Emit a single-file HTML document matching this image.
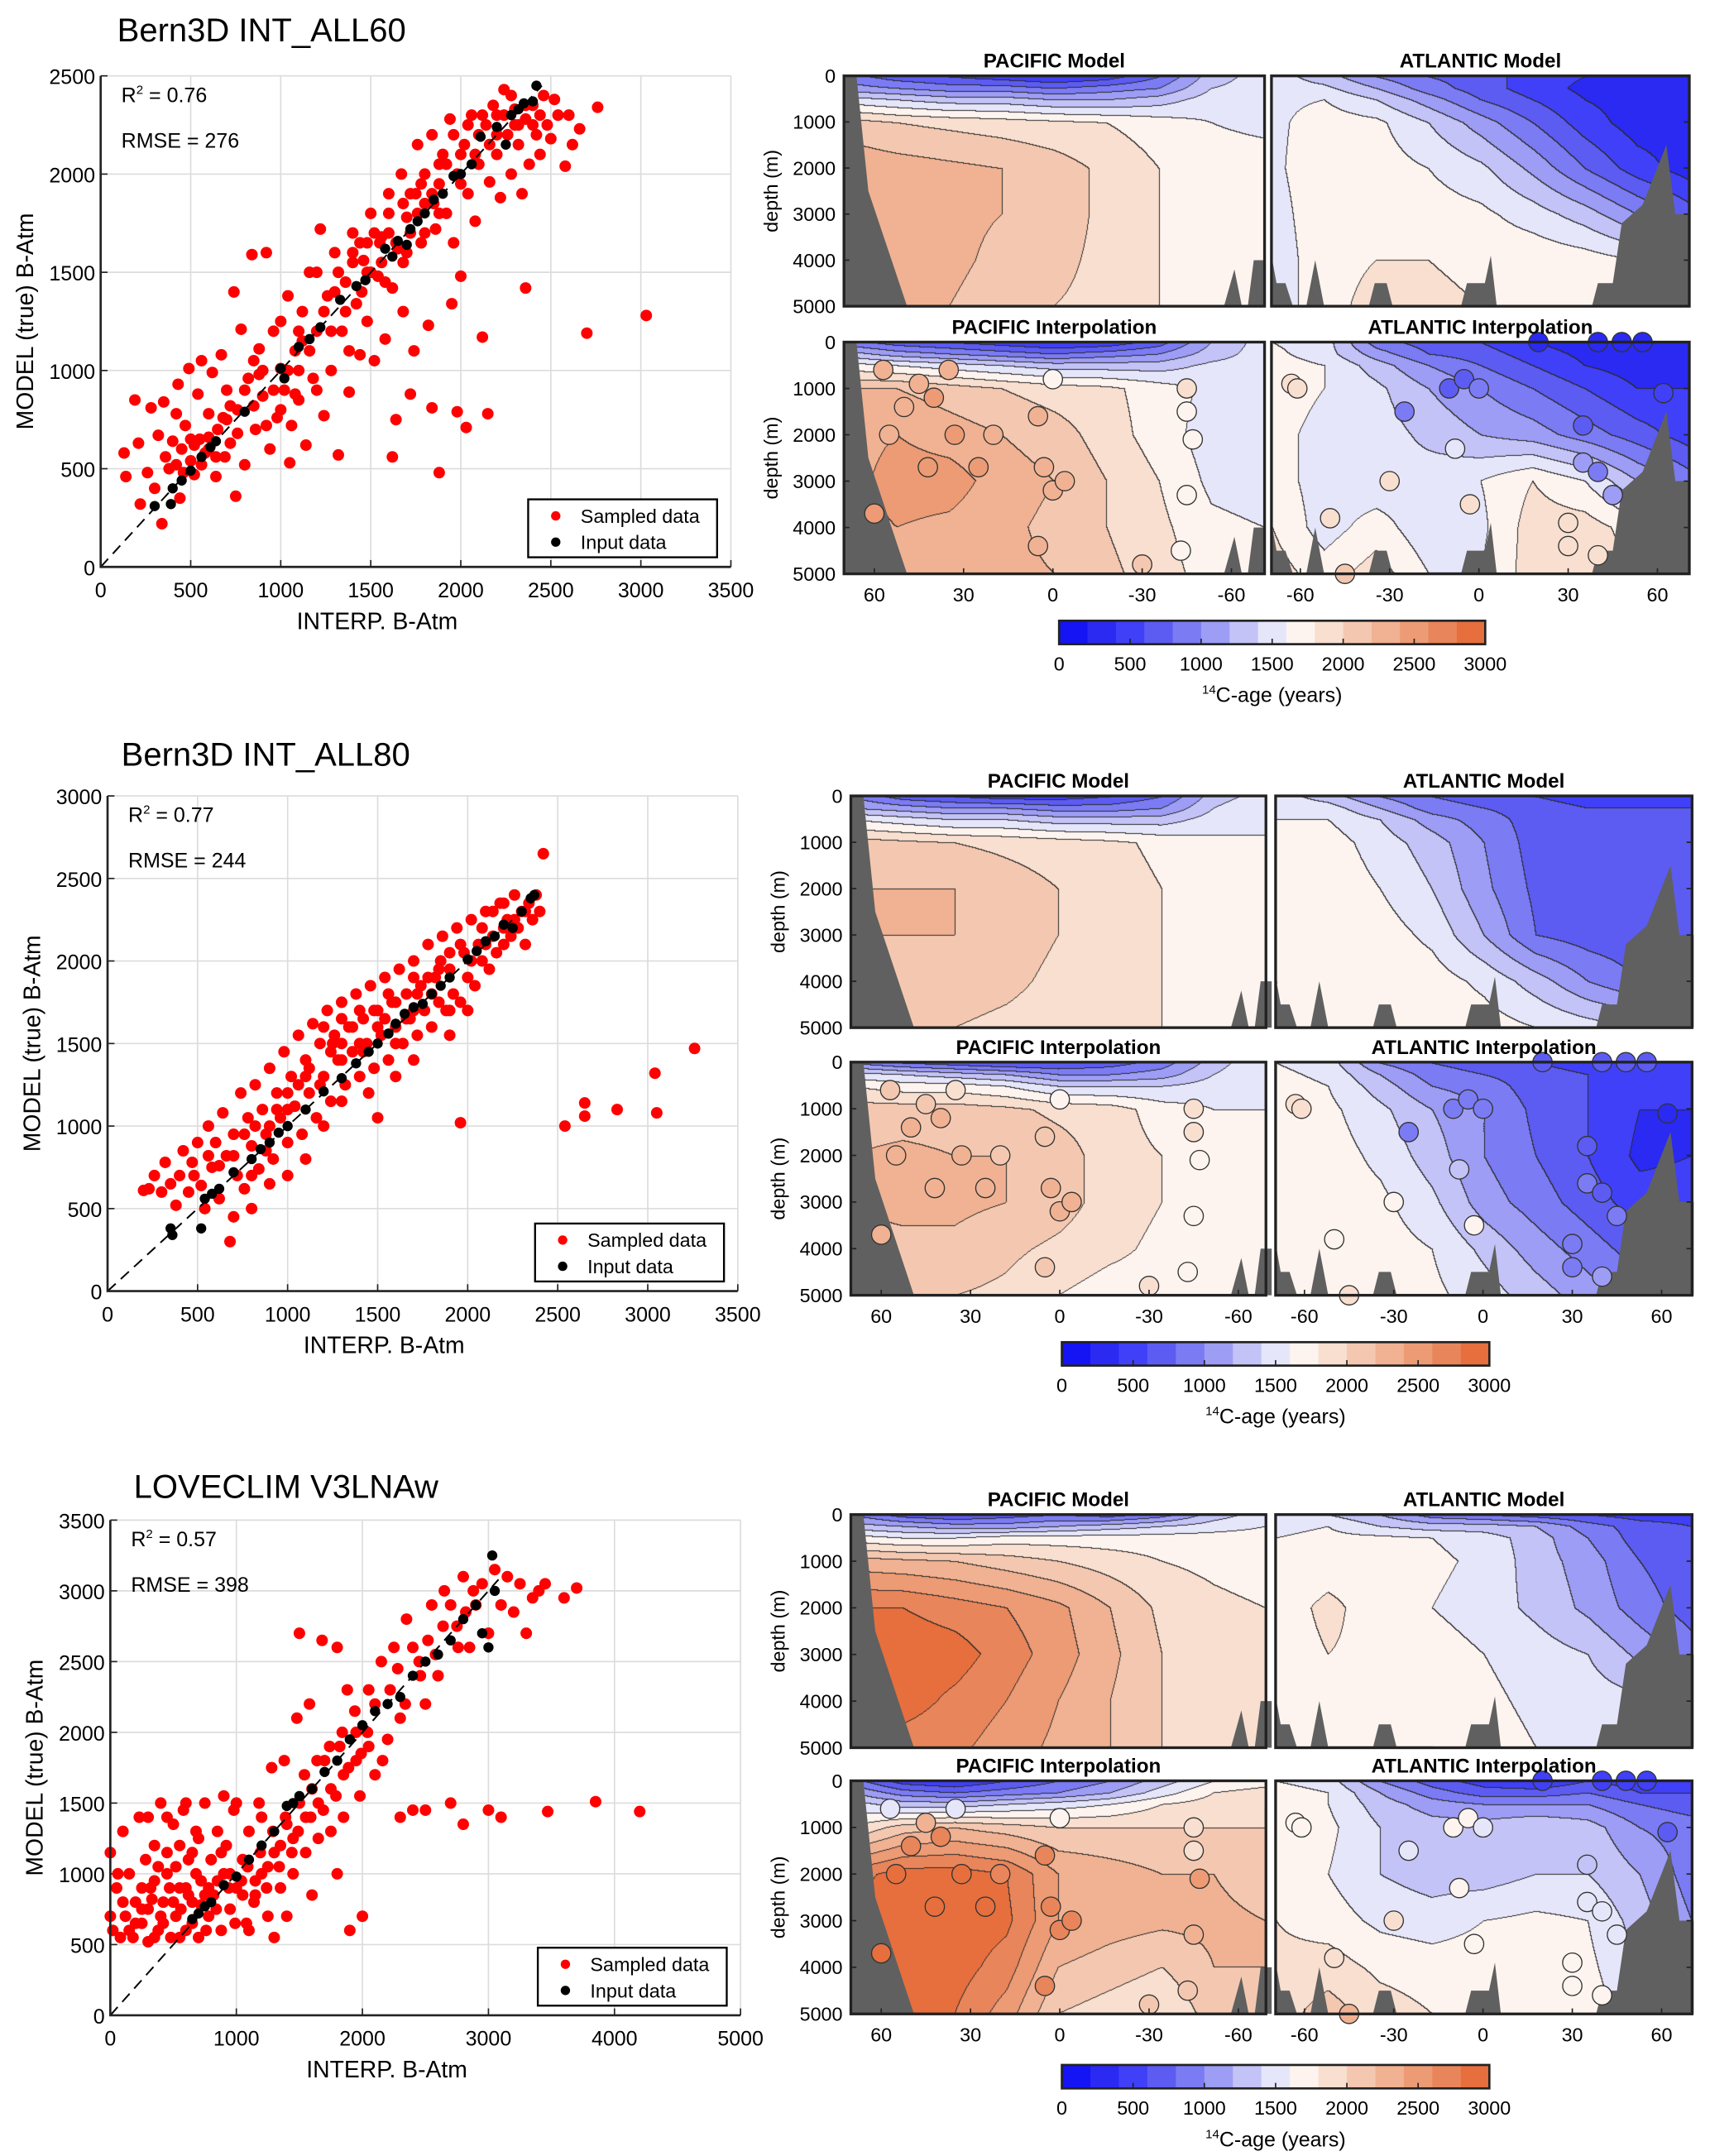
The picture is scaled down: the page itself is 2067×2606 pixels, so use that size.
<!DOCTYPE html>
<html><head><meta charset="utf-8">
<style>
html,body{margin:0;padding:0;background:#fff;}
#page{position:relative;width:2067px;height:2606px;overflow:hidden;background:#fff;}
canvas{position:absolute;}
#ov{position:absolute;left:0;top:0;}
text{font-family:"Liberation Sans",sans-serif;}
</style></head>
<body>
<div id="page">
<svg id="ov" width="2067" height="2606" viewBox="0 0 1240 1563" preserveAspectRatio="none"></svg>
</div>
<script>
// ---------- scatter data ----------
const s1Red=[[130,580],[140,460],[190,850],[210,630],[220,320],[260,480],[280,810],[300,400],[320,670],[340,220],[350,840],[360,560],[380,500],[400,640],[420,780],[430,930],[440,350],[450,600],[470,720],[490,1010],[500,540],[520,470],[540,880],[550,650],[560,1050],[580,580],[600,780],[620,990],[640,460],[650,700],[670,1080],[690,560],[700,900],[720,630],[740,1400],[750,360],[760,800],[780,1210],[800,520],[820,960],[840,1590],[860,700],[880,1110],[900,870],[920,1600],[940,600],[960,1200],[980,760],[1000,1010],[1020,900],[1040,1380],[1050,530],[1060,720],[1080,1100],[1100,850],[1120,1300],[1140,620],[1160,1500],[1180,960],[1200,1200],[1220,1720],[1240,770],[1260,1380],[1280,1000],[1300,1600],[1320,570],[1340,1200],[1360,1450],[1380,890],[1400,1700],[1420,1340],[1440,1080],[1460,1560],[1480,1250],[1500,1800],[1520,1050],[1540,1480],[1560,1680],[1580,1160],[1600,1900],[1620,1420],[1640,750],[1650,1620],[1670,2000],[1680,1300],[1700,1780],[1720,1900],[1740,1100],[1760,2150],[1780,1650],[1800,1850],[1820,1230],[1840,2200],[1860,1720],[1880,1950],[1900,2100],[1920,1800],[1940,2280],[1960,1650],[1980,2000],[2000,1480],[2020,2150],[2040,1900],[2060,2300],[2080,1760],[2100,2050],[2120,1170],[2140,2250],[2160,1960],[2180,2350],[2200,2100],[2220,1880],[2240,2430],[2260,2200],[2280,2000],[2300,2330],[2320,2150],[2340,1900],[2360,2280],[2380,2050],[2400,2350],[2420,2200],[2440,2100],[2460,2400],[2480,2250],[2500,2180],[2520,2380],[2540,2300],[2580,2040],[2600,2300],[2620,2150],[2660,2230],[2760,2340],[1880,480],[2150,780],[2030,710],[1840,810],[1980,790],[3030,1280],[2700,1190],[2360,1420],[1950,1340],[1720,880],[1620,560],[1500,1500],[1400,1600],[1600,1700],[1700,1600],[1800,1700],[1300,1400],[1200,1500],[1100,1000],[900,1000],[700,750],[600,600],[500,650],[1750,1900],[1850,1850],[1550,1650],[1450,1400],[2000,2100],[2100,2200],[2200,2300],[2300,2250],
[420,520],[460,480],[520,620],[560,520],[600,660],[640,560],[680,760],[720,820],[760,680],[800,900],[850,820],[880,980],[920,720],[960,900],[1000,800],[1040,1000],[1080,880],[1120,1150],[1160,1100],[1200,900],[1240,1300],[1280,1200],[1320,1500],[1360,1300],[1400,1550],[1440,1650],[1480,1500],[1520,1700],[1560,1550],[1600,1800],[1640,1650],[1680,1850],[1720,1700],[1760,1800],[1800,2000],[1840,1900],[1880,1800],[1920,2050],[1960,2200],[2000,1950],[2040,2250],[2080,2100],[2120,2300],[2160,2150],[2200,2200],[2240,2300],[2280,2400],[2320,2250],[2360,2350],[2400,2250],[2440,2300],[1380,1100],[1480,1650],[1580,1450],[1680,1550],[1780,1950],[1880,2050],[1000,1250],[1100,1200],[850,1050]];
const s1Black=[[300,310],[390,320],[400,400],[450,440],[500,490],[560,560],[610,610],[640,640],[800,790],[1000,1010],[1020,960],[1100,1120],[1160,1160],[1220,1220],[1330,1360],[1420,1430],[1470,1460],[1580,1620],[1620,1580],[1650,1660],[1700,1640],[1720,1720],[1760,1760],[1800,1800],[1850,1870],[1900,1900],[1960,1990],[2000,2000],[2060,2050],[2110,2190],[2200,2240],[2250,2150],[2280,2300],[2320,2330],[2350,2360],[2400,2370],[2420,2450]];
const s2Red=[[200,610],[230,620],[260,700],[300,600],[320,780],[350,650],[380,520],[400,700],[420,850],[450,600],[470,780],[500,900],[520,640],[540,500],[560,1000],[580,750],[600,900],[620,560],[640,1080],[660,820],[680,300],[700,950],[720,700],[740,1200],[760,620],[780,1050],[800,880],[820,1250],[840,740],[860,1100],[880,950],[900,1350],[920,800],[940,1200],[960,1050],[980,1450],[1000,900],[1020,1300],[1040,1120],[1060,1550],[1080,950],[1100,1400],[1120,1200],[1140,1620],[1160,1050],[1180,1500],[1200,1300],[1220,1700],[1240,1150],[1260,1550],[1280,1400],[1300,1750],[1320,1250],[1340,1600],[1360,1450],[1380,1800],[1400,1300],[1420,1650],[1440,1500],[1460,1850],[1480,1350],[1500,1700],[1520,1550],[1540,1900],[1560,1400],[1580,1750],[1600,1600],[1620,1950],[1640,1500],[1660,1800],[1680,1650],[1700,2000],[1720,1550],[1740,1850],[1760,1700],[1780,2100],[1800,1600],[1820,1900],[1840,1750],[1860,2150],[1880,1700],[1900,1950],[1920,1800],[1940,2200],[1960,1750],[1980,2050],[2000,1900],[2020,2250],[2040,1850],[2060,2100],[2080,2000],[2100,2300],[2120,1950],[2140,2150],[2160,2050],[2180,2350],[2200,2100],[2220,2250],[2240,2150],[2260,2400],[2280,2200],[2300,2300],[2320,2100],[2340,2350],[2360,2250],[2380,2400],[2400,2300],[2420,2650],[1200,1000],[900,650],[1000,700],[1100,800],[1300,1150],[1450,1200],[700,450],[800,500],[1600,1300],[1700,1400],[1900,1550],[2000,1700],[1500,1050],[1960,1020],[2540,1000],[2650,1140],[2650,1060],[2830,1100],[3050,1080],[3040,1320],[3260,1470],[1200,1600],[1300,1650],[1100,1300],[1400,1500],[1500,1600],[1600,1500],[1700,1700],[1800,1800],[1900,1700],[1000,1100],[900,1000],[800,700],[1300,1500],[2100,2100],[2200,2200],
[480,700],[560,820],[620,760],[700,820],[760,950],[820,1000],[880,850],[940,1100],[1000,1200],[1060,1250],[1120,1350],[1180,1250],[1240,1450],[1300,1400],[1360,1600],[1420,1450],[1480,1700],[1540,1650],[1600,1750],[1660,1650],[1720,1800],[1780,1900],[1840,1950],[1900,2050],[1960,2100],[2020,2000],[2080,2200],[2140,2300],[2200,2350],[2260,2250],[2320,2300],[1560,1800],[1400,1700],[1250,1500],[1700,1900],[1850,2000]];
const s2Black=[[350,380],[360,340],[520,380],[540,560],[580,590],[620,620],[700,720],[800,800],[850,860],[900,900],[950,960],[1000,1000],[1100,1100],[1200,1210],[1300,1290],[1380,1380],[1450,1450],[1500,1500],[1560,1560],[1600,1620],[1650,1680],[1700,1720],[1750,1740],[1800,1800],[1850,1850],[1900,1900],[2000,2010],[2050,2060],[2100,2120],[2150,2150],[2200,2220],[2250,2200],[2300,2300],[2350,2380],[2370,2400]];
const s3Red=[[0,1150],[0,700],[20,600],[50,900],[80,550],[100,1300],[120,700],[150,1000],[180,550],[200,800],[230,1400],[250,650],[280,1100],[300,520],[320,900],[350,1200],[380,600],[400,1500],[420,800],[450,1000],[480,550],[500,1350],[520,700],[550,900],[580,1450],[600,600],[620,1100],[650,800],[680,1300],[700,550],[720,950],[750,1500],[780,700],[800,1100],[820,850],[850,1300],[880,600],[900,1000],[920,1200],[950,750],[980,1450],[1000,900],[1050,1100],[1080,650],[1100,1300],[1150,850],[1180,1500],[1200,1000],[1250,700],[1280,1750],[1300,1150],[1350,900],[1380,1800],[1400,1350],[1450,1000],[1480,2100],[1500,1500],[1550,1150],[1580,2200],[1600,1600],[1650,1250],[1680,2650],[1700,1800],[1750,1300],[1800,2600],[1820,1900],[1850,1400],[1880,2300],[1900,600],[1950,2000],[1980,1550],[2000,700],[2050,2300],[2100,1700],[2150,2500],[2200,1950],[2250,2600],[2300,2100],[2350,2800],[2400,1450],[2450,2500],[2500,2200],[2550,2900],[2600,2400],[2650,3000],[2700,1500],[2750,2750],[2800,3100],[2850,2600],[2900,2900],[2950,3050],[3000,2700],[3050,3150],[3100,2900],[3150,3100],[3200,2850],[3250,3050],[3300,2700],[3350,2950],[3400,3000],[3450,3050],[3600,2950],[3700,3020],[3470,1440],[3850,1510],[4200,1440],[2300,1400],[2500,1450],[2800,1350],[3000,1450],[3100,1400],[1000,1500],[1200,1400],[1400,700],[1600,850],[1800,1000],[600,1500],[300,1400],[700,1250],[900,1550],[1500,2700],[1100,600],[1300,550],[400,700],[500,800],[600,900],[300,750],[200,650],[450,1150],[550,1200],[350,950],[250,900],[650,650],[750,850],[850,950],[950,1000],[1050,850],[1150,950],[1250,1050],[1350,1200],[1450,1250],[1550,1400],[1650,1500],[1750,1600],[1850,1700],[1950,1800],[2050,1900],
[250,750],[330,820],[380,1050],[420,650],[470,900],[520,1050],[560,750],[620,850],[680,1000],[720,780],[780,900],[840,750],[880,1150],[940,900],[990,650],[1040,950],[1090,1050],[1140,800],[1190,1150],[1240,900],[1290,1300],[1340,1050],[1390,1400],[1440,1150],[1490,1300],[1540,1700],[1590,1400],[1640,1800],[1690,1450],[1740,1900],[1790,1550],[1840,2000],[1890,1750],[1940,2150],[1990,1850],[2040,2000],[2100,2200],[2160,1800],[2220,2300],[2280,2450],[2340,2200],[2400,2600],[2460,2400],[2520,2650],[2580,2550],[2640,2750],[2700,2900],[2760,2600],[2820,2850],[2880,3000],[150,600],[100,800],[60,1000],[350,550],[450,1400],[550,550],[650,1150],[760,600]];
const s3Black=[[650,680],[700,720],[750,770],[800,800],[900,920],[1000,980],[1100,1100],[1200,1200],[1300,1300],[1400,1480],[1450,1500],[1500,1550],[1600,1600],[1700,1720],[1800,1800],[1900,1950],[2000,2050],[2100,2150],[2200,2200],[2300,2250],[2400,2400],[2500,2500],[2600,2550],[2700,2650],[2800,2800],[2900,2900],[2950,2700],[3000,2600],[3050,3000],[3030,3250]];
const xTicks12=[0,500,1000,1500,2000,2500,3000,3500];
const yTicks1=[0,500,1000,1500,2000,2500];
const yTicks2=[0,500,1000,1500,2000,2500,3000];
const xTicks3=[0,1000,2000,3000,4000,5000];
const yTicks3=[0,500,1000,1500,2000,2500,3000,3500];
const titles=["Bern3D INT_ALL60","Bern3D INT_ALL80","LOVECLIM V3LNAw"];
const r2Labels=["0.76","0.77","0.57"];
const rmseLabels=["276","244","398"];

// ---------- section data ----------
const depthRows=[0,250,500,1000,2000,3000,4000,5000];
const r1PM=[[900,700,600,500,400,500,800,1300,1500],[1100,1000,900,900,800,900,1000,1400,1500],[1500,1400,1300,1300,1200,1200,1300,1500,1550],[2100,2000,1950,1900,1850,1800,1700,1600,1550],[2350,2300,2250,2200,2100,1950,1800,1700,1700],[2450,2300,2250,2200,2100,1950,1800,1750,1700],[2300,2300,2250,2150,2050,1950,1800,1750,1750],[2200,2200,2200,2100,2000,1950,1800,1750,1750]];
const r1AM=[[1500,1300,1000,800,700,500,400,300,300],[1500,1450,1200,900,700,500,350,300,300],[1550,1600,1400,1100,800,600,400,300,300],[1550,1700,1650,1400,1100,800,500,300,300],[1550,1750,1700,1600,1450,1150,800,500,300],[1500,1750,1750,1700,1650,1500,1300,1000,700],[1450,1750,1800,1800,1750,1750,1700,1600,1400],[1450,1750,1850,1850,1800,1800,1800,1700,1600]];
const r1PI=[[900,700,600,500,400,450,700,1200,1500],[1300,1100,1000,900,800,900,1000,1300,1500],[1700,1600,1500,1400,1300,1300,1300,1450,1500],[2200,2200,2100,2000,1900,1850,1700,1550,1500],[2300,2400,2300,2200,2100,1900,1700,1500,1450],[2300,2500,2500,2300,2200,2000,1800,1550,1500],[2300,2400,2350,2250,2150,2000,1850,1650,1600],[2250,2300,2300,2250,2200,2050,1900,1700,1600]];
const r1AI=[[1600,1500,900,700,600,400,300,250,300],[1650,1500,1100,800,700,500,350,300,300],[1700,1600,1300,1000,800,600,400,300,300],[1750,1600,1450,1200,1000,800,600,400,400],[1700,1500,1500,1350,1200,1100,900,700,500],[1700,1500,1450,1500,1600,1800,1600,1200,900],[1800,1500,1700,1450,1550,1900,1900,1700,1500],[1900,1700,1900,1600,1600,1900,1950,1800,1600]];
const r2PM=[[1000,700,600,500,500,600,800,1300,1500],[1200,1100,1000,1000,900,900,1000,1400,1600],[1600,1500,1400,1400,1300,1300,1300,1500,1600],[2100,2050,2000,1950,1900,1850,1750,1650,1600],[2200,2200,2200,2100,2000,1900,1800,1700,1650],[2200,2200,2200,2100,2000,1900,1800,1700,1650],[2150,2150,2100,2050,1950,1850,1800,1700,1700],[2050,2050,2000,1950,1900,1850,1800,1750,1750]];
const r2AM=[[1500,1300,1000,800,700,600,500,500,500],[1550,1500,1200,900,800,700,600,600,600],[1600,1600,1400,1100,900,700,600,600,600],[1650,1700,1500,1300,1000,700,600,600,600],[1650,1750,1600,1400,1050,750,650,600,600],[1650,1750,1700,1550,1200,800,700,650,600],[1600,1750,1750,1700,1550,1300,1000,800,700],[1600,1750,1800,1750,1700,1600,1500,1400,1300]];
const r2PI=[[1000,800,700,600,600,700,900,1300,1600],[1500,1400,1300,1200,1000,1000,1100,1400,1600],[1800,1700,1700,1600,1400,1400,1400,1500,1600],[2100,2100,2100,2050,1950,1900,1700,1600,1600],[2200,2250,2200,2200,2100,1900,1800,1650,1600],[2200,2250,2250,2200,2100,1900,1800,1700,1600],[2150,2150,2150,2050,1950,1850,1750,1700,1650],[2050,2050,2000,1950,1800,1700,1700,1700,1700]];
const r2AI=[[1600,1500,1000,800,700,600,500,500,600],[1650,1550,1200,900,800,700,600,500,600],[1700,1600,1300,1000,900,700,600,500,500],[1700,1650,1450,1200,1000,750,600,400,400],[1700,1700,1550,1300,1000,800,600,350,400],[1700,1700,1650,1450,1100,900,700,500,500],[1600,1700,1700,1600,1350,1100,900,700,600],[1600,1700,1700,1650,1500,1300,1100,900,800]];
const r3PM=[[1000,700,600,700,800,700,900,1300,1500],[1300,1200,1100,1100,1200,1300,1400,1500,1600],[1700,1600,1600,1700,1700,1700,1700,1700,1700],[2300,2250,2200,2100,2000,1900,1800,1750,1700],[2800,2800,2700,2600,2450,2200,1950,1850,1800],[2950,2950,2900,2700,2500,2250,2000,1900,1850],[2850,2900,2750,2600,2400,2200,2000,1900,1850],[2700,2700,2650,2500,2350,2200,2000,1900,1850]];
const r3AM=[[1500,1400,1200,900,800,700,600,500,500],[1550,1600,1400,1300,1300,1200,900,700,600],[1600,1650,1650,1600,1500,1300,1000,700,600],[1650,1700,1700,1650,1550,1300,1100,800,650],[1700,1850,1700,1600,1500,1350,1150,900,700],[1700,1800,1750,1700,1600,1500,1400,1150,900],[1700,1800,1750,1750,1650,1550,1500,1450,1300],[1750,1800,1800,1800,1700,1600,1550,1500,1450]];
const r3PI=[[900,500,400,600,800,1000,1300,1600,1700],[1200,900,800,900,1000,1200,1500,1800,1900],[1500,1300,1300,1400,1500,1600,1800,1900,2000],[1800,2100,2200,2100,2000,2000,2000,2000,2000],[2700,2900,2900,2800,2400,2300,2200,2200,2100],[2900,2950,2950,2850,2400,2300,2250,2250,2200],[2900,2900,2900,2700,2200,2100,2000,2200,2200],[2800,2800,2800,2500,2000,1900,1800,2100,2200]];
const r3AI=[[1600,1500,1000,700,500,400,600,500,500],[1700,1600,1200,900,700,700,800,600,600],[1700,1600,1300,1100,1000,1000,1000,800,700],[1700,1650,1400,1300,1300,1400,1300,1000,900],[1750,1600,1400,1300,1300,1400,1400,1200,900],[1800,1700,1550,1500,1600,1650,1600,1300,1000],[1850,1900,1750,1700,1700,1700,1650,1400,1200],[1900,2100,1900,1800,1750,1750,1700,1500,1300]];
const pacSites=[[57,600],[35,600],[45,900],[40,1200],[50,1400],[55,2000],[33,2000],[20,2000],[25,2700],[42,2700],[5,1600],[3,2700],[0,3200],[-4,3000],[5,4400],[-45,1000],[-45,1500],[-47,2100],[-43,4500],[-45,3300],[60,3700],[0,800],[-30,4800]];
const atlSites=[[-63,900],[-61,1000],[-10,1000],[-5,800],[-25,1500],[-8,2300],[-30,3000],[-3,3500],[-50,3800],[35,2600],[40,2800],[30,3900],[40,4600],[30,4400],[20,0],[40,0],[48,0],[55,0],[62,1100],[0,1000],[35,1800],[45,3300],[-45,5000]];
const pacVals=[[2200,2200,2300,2400,2300,2300,2400,2300,2400,2400,2200,2300,2300,2300,2300,1800,1700,1700,1700,1700,2500,1600,2000],[2000,1900,2100,2200,2200,2200,2200,2100,2200,2200,2100,2200,2200,2200,2100,1900,1800,1700,1700,1700,2300,1600,1900],[1500,1500,2300,2600,2700,2800,2800,2700,2800,2800,2600,2700,2700,2700,2700,1900,1800,2500,2000,2200,2900,1600,2100]];
const atlVals=[[1800,1800,700,700,800,1400,1800,1900,1900,1000,900,1900,1900,1800,300,300,300,300,400,800,700,1000,2000],[1800,1800,800,800,900,1300,1600,1700,1700,800,700,900,1000,800,600,600,600,600,300,800,700,800,1900],[1700,1700,1600,1600,1500,1600,1900,1700,1900,1400,1400,1600,1600,1600,500,500,500,500,700,1500,1300,1500,2300]];
const bins=["#1414f5","#2a2af2","#4040f8","#5c5cf2","#7b7bf4","#9d9df5","#c3c3f7","#e6e6fb","#fdf4ef","#f8dfd0","#f4c8b0","#f0b292","#ec9b74","#e8855a","#e66f3d"];
const cbTicks=[0,500,1000,1500,2000,2500,3000];
const pacLatTicks=[60,30,0,-30,-60];
const atlLatTicks=[-60,-30,0,30,60];
const depthTicks=[0,1000,2000,3000,4000,5000];
const pacBathy=[[[70.2,0],[66,0],[62,2500],[49,5000],[70.2,5000]],[[-57.5,5000],[-61,4200],[-63.5,5000]],[[-65.5,5000],[-67.5,4000],[-71.2,4000],[-71.2,5000]]];
const atlBathy=[[[-69.7,3900],[-68,4500],[-65,4500],[-62.5,5000],[-69.7,5000]],[[-58,5000],[-55,4000],[-52,5000]],[[-37,5000],[-35,4500],[-31,4500],[-29,5000]],[[-6,5000],[-4,4500],[2,4500],[4,3900],[6,5000]],[[38,5000],[40,4500],[45,4500],[48,3200],[55,2800],[63,1500],[66,3000],[70.8,3000],[70.8,5000]]];

// ---------- layout ----------
const S=2067/1240;
const NS="http://www.w3.org/2000/svg";
const svg=document.getElementById('ov');
const page=document.getElementById('page');
function el(tag,attrs,parent){const e=document.createElementNS(NS,tag);for(const k in attrs)e.setAttribute(k,attrs[k]);(parent||svg).appendChild(e);return e;}
function txt(x,y,s,size,anchor,extra){const t=el('text',Object.assign({x:x,y:y,'font-size':size,'text-anchor':anchor||'start',fill:'#000'},extra||{}));t.textContent=s;return t;}
function binColor(v){let b=Math.floor(v/200);if(b<0)b=0;if(b>14)b=14;return bins[b];}

const rows=[
 {sc:{x:73,y:55,w:457,h:356},xmax:3500,ymax:2500,xt:xTicks12,yt:yTicks1,red:s1Red,blk:s1Black,tx:85,ty:30,
  top:55,th:167,bot:248,bh:168,px:612,pw:305,ax:922,aw:303,cb:{x:768,y:450,w:309,h:17},grids:[r1PM,r1AM,r1PI,r1AI]},
 {sc:{x:78,y:577,w:457,h:359},xmax:3500,ymax:3000,xt:xTicks12,yt:yTicks2,red:s2Red,blk:s2Black,tx:88,ty:555,
  top:577,th:168,bot:770,bh:169,px:617,pw:301,ax:925,aw:302,cb:{x:770,y:973,w:310,h:17},grids:[r2PM,r2AM,r2PI,r2AI]},
 {sc:{x:80,y:1102,w:457,h:359},xmax:5000,ymax:3500,xt:xTicks3,yt:yTicks3,red:s3Red,blk:s3Black,tx:97,ty:1086,
  top:1098,th:169,bot:1291,bh:169,px:617,pw:301,ax:925,aw:302,cb:{x:770,y:1497,w:310,h:17},grids:[r3PM,r3AM,r3PI,r3AI]}
];

function drawSection(grid,x,y,w,h,latL,latR,name){
  const c=document.createElement('canvas');
  const W=Math.round(w*S),H=Math.round(h*S);
  c.width=W;c.height=H;
  c.style.left=(x*S)+'px';c.style.top=(y*S)+'px';
  
  
  page.insertBefore(c,svg);
  const ctx=c.getContext('2d');const img=ctx.createImageData(W,H);
  const rgb=bins.map(h=>[parseInt(h.substr(1,2),16),parseInt(h.substr(3,2),16),parseInt(h.substr(5,2),16)]);
  const nc=grid[0].length;
  const binArr=new Int16Array(W*H);
  for(let py=0;py<H;py++){
    const d=5000*py/(H-1);
    let r=0;while(r<depthRows.length-2&&depthRows[r+1]<d)r++;
    const fr=(d-depthRows[r])/(depthRows[r+1]-depthRows[r]);
    for(let px=0;px<W;px++){
      const cf=px/(W-1)*(nc-1);let ci=Math.min(Math.floor(cf),nc-2);const fc=cf-ci;
      const v0=grid[r][ci]*(1-fc)+grid[r][ci+1]*fc;
      const v1=grid[r+1][ci]*(1-fc)+grid[r+1][ci+1]*fc;
      const v=v0*(1-fr)+v1*fr;
      let b=Math.floor(v/200);if(b<0)b=0;if(b>14)b=14;
      binArr[py*W+px]=b;
    }
  }
  for(let py=0;py<H;py++)for(let px=0;px<W;px++){
    const i=py*W+px;const b=binArr[i];let col=rgb[b];
    if((px>0&&binArr[i-1]!==b)||(py>0&&binArr[i-W]!==b))col=[40,40,40];
    img.data[i*4]=col[0];img.data[i*4+1]=col[1];img.data[i*4+2]=col[2];img.data[i*4+3]=255;
  }
  ctx.putImageData(img,0,0);
}

rows.forEach((R,ri)=>{
  const t=txt(R.tx,R.ty,titles[ri],24,'start',{'font-family':'"Liberation Sans Narrow","Liberation Sans",sans-serif'});
  
  const sc=R.sc;
  const X=v=>sc.x+v/R.xmax*sc.w, Y=v=>sc.y+sc.h-v/R.ymax*sc.h;
  const bg=el('rect',{x:sc.x,y:sc.y,width:sc.w,height:sc.h,fill:'#fff'});
  
  R.xt.forEach(v=>{const l=el('line',{x1:X(v),x2:X(v),y1:sc.y,y2:sc.y+sc.h,stroke:'#dcdcdc','stroke-width':1});
    const tl=txt(X(v),sc.y+sc.h+22,String(v),15,'middle');
    el('line',{x1:X(v),x2:X(v),y1:sc.y+sc.h,y2:sc.y+sc.h-5,stroke:'#222'});});
  R.yt.forEach(v=>{const l=el('line',{x1:sc.x,x2:sc.x+sc.w,y1:Y(v),y2:Y(v),stroke:'#dcdcdc','stroke-width':1});
    const tl=txt(sc.x-4,Y(v)+6,String(v),15,'end');
    el('line',{x1:sc.x,x2:sc.x+5,y1:Y(v),y2:Y(v),stroke:'#222'});});
  R.red.forEach(p=>{const c=el('circle',{cx:X(p[0]),cy:Y(p[1]),r:4.2,fill:'#ff0000'});});
  const dmax=R.blk.reduce((m,p)=>Math.max(m,p[0]),0)+30;
  const dl=el('line',{x1:X(0),y1:Y(0),x2:X(dmax),y2:Y(dmax),stroke:'#000','stroke-width':1.2,'stroke-dasharray':'8,5'});
  
  R.blk.forEach(p=>{const c=el('circle',{cx:X(p[0]),cy:Y(p[1]),r:3.7,fill:'#000'});});
  const bx=el('path',{d:`M${sc.x},${sc.y}V${sc.y+sc.h}H${sc.x+sc.w}`,fill:'none',stroke:'#222','stroke-width':1.6});
  
  const rt=txt(sc.x+15,sc.y+19,'R',15);
  const sup=el('tspan',{'font-size':9,dy:-6});sup.textContent='2';rt.appendChild(sup);
  const rest=el('tspan',{dy:6});rest.textContent=' = '+r2Labels[ri];rt.appendChild(rest);
  const rm=txt(sc.x+15,sc.y+52,'RMSE = '+rmseLabels[ri],15);
  const xl=txt(sc.x+sc.w/2-28,sc.y+sc.h+45,'INTERP. B-Atm',17,'middle');
  const yl=txt(0,0,'MODEL (true) B-Atm',17,'middle',{transform:`translate(${sc.x-49},${sc.y+sc.h/2}) rotate(-90)`});
  const lg=el('g',{});
  const lx=sc.x+sc.w-147,ly=sc.y+sc.h-49;
  el('rect',{x:lx,y:ly,width:137,height:42,fill:'#fff',stroke:'#000','stroke-width':1.4},lg);
  el('circle',{cx:lx+20,cy:ly+12,r:3.4,fill:'#ff0000'},lg);
  el('circle',{cx:lx+20,cy:ly+31,r:3.4,fill:'#000'},lg);
  const l1=el('text',{x:lx+38,y:ly+17,'font-size':14},lg);l1.textContent='Sampled data';
  const l2=el('text',{x:lx+38,y:ly+36,'font-size':14},lg);l2.textContent='Input data';

  const pacL=70.2, pacR=pacL-R.pw/2.158;
  const atlL=-69.7, atlR=atlL+R.aw/2.158;
  const panels=[
    {g:R.grids[0],x:R.px,y:R.top,w:R.pw,h:R.th,l:pacL,r:pacR,name:'pacific-model',title:'PACIFIC  Model',bathy:pacBathy},
    {g:R.grids[1],x:R.ax,y:R.top,w:R.aw,h:R.th,l:atlL,r:atlR,name:'atlantic-model',title:'ATLANTIC Model',bathy:atlBathy},
    {g:R.grids[2],x:R.px,y:R.bot,w:R.pw,h:R.bh,l:pacL,r:pacR,name:'pacific-interpolation',title:'PACIFIC  Interpolation',bathy:pacBathy,sites:pacSites,vals:pacVals[ri]},
    {g:R.grids[3],x:R.ax,y:R.bot,w:R.aw,h:R.bh,l:atlL,r:atlR,name:'atlantic-interpolation',title:'ATLANTIC Interpolation',bathy:atlBathy,sites:atlSites,vals:atlVals[ri]}
  ];
  panels.forEach((P,pi)=>{
    drawSection(P.g,P.x,P.y,P.w,P.h,P.l,P.r,P.name+'-field');
    const LX=lat=>P.x+(lat-P.l)/(P.r-P.l)*P.w, DY=d=>P.y+d/5000*P.h;
    P.bathy.forEach(poly=>{const p=el('polygon',{points:poly.map(q=>LX(q[0])+','+DY(q[1])).join(' '),fill:'#606060'});});
    if(P.sites){P.sites.forEach((s,i)=>{const c=el('circle',{cx:LX(s[0]),cy:DY(s[1]),r:7,fill:binColor(P.vals[i]),stroke:'#333','stroke-width':0.8});});}
    const fr=el('rect',{x:P.x,y:P.y,width:P.w,height:P.h,fill:'none',stroke:'#222','stroke-width':2});
    
    const tt=txt(P.x+P.w/2,P.y-6,P.title,14.5,'middle',{'font-weight':'bold'});
    if(pi%2===0){
      depthTicks.forEach(d=>{const tl=txt(P.x-6,DY(d)+5,String(d),14,'end');
        el('line',{x1:P.x,x2:P.x+4,y1:DY(d),y2:DY(d),stroke:'#222'});});
      const dl=txt(0,0,'depth (m)',14,'middle',{transform:`translate(${P.x-48},${P.y+P.h/2}) rotate(-90)`});
    } else {
      depthTicks.forEach(d=>el('line',{x1:P.x+P.w,x2:P.x+P.w-4,y1:DY(d),y2:DY(d),stroke:'#222'}));
    }
    if(pi>=2){
      (pi===2?pacLatTicks:atlLatTicks).forEach(lat=>{const tl=txt(LX(lat),P.y+P.h+20,String(lat),14,'middle');
        el('line',{x1:LX(lat),x2:LX(lat),y1:P.y+P.h,y2:P.y+P.h-4,stroke:'#222'});});
    }
  });
  const cb=R.cb;const cg=el('g',{});
  bins.forEach((col,i)=>{const r=el('rect',{x:cb.x+i*cb.w/15,y:cb.y,width:cb.w/15+0.3,height:cb.h,fill:col},cg);});
  el('rect',{x:cb.x,y:cb.y,width:cb.w,height:cb.h,fill:'none',stroke:'#222','stroke-width':1.6},cg);
  cbTicks.forEach(v=>{const x=cb.x+v/3000*cb.w;el('line',{x1:x,x2:x,y1:cb.y+cb.h,y2:cb.y+cb.h-4,stroke:'#222'},cg);
    const tl=txt(x,cb.y+cb.h+19,String(v),14,'middle');});
  const ct=txt(cb.x+cb.w/2,cb.y+cb.h+42,'',15,'middle');
  const s1=el('tspan',{'font-size':9,dy:-6},ct);s1.textContent='14';
  const s2=el('tspan',{dy:6},ct);s2.textContent='C-age (years)';
});
</script>
</body></html>
